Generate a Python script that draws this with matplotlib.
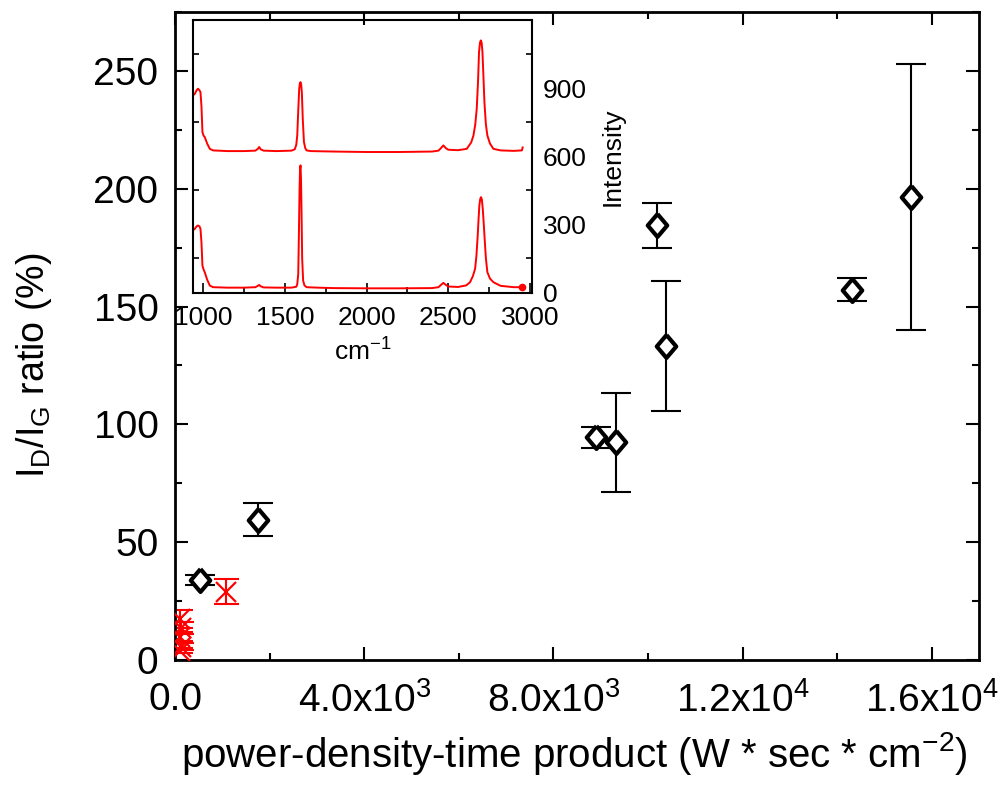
import matplotlib
matplotlib.use('Agg')
import matplotlib.pyplot as plt
from matplotlib.ticker import MultipleLocator, FixedLocator, FixedFormatter

plt.rcParams['font.family'] = ['Liberation Sans', 'DejaVu Sans']
plt.rcParams['mathtext.fontset'] = 'custom'
plt.rcParams['mathtext.rm'] = 'Liberation Sans'
plt.rcParams['mathtext.it'] = 'Liberation Sans'
plt.rcParams['mathtext.bf'] = 'Liberation Sans'

# ---------------- data ----------------
# black series (diamonds)
pdt_black = [528, 1752, 8908, 9330, 10195, 10385, 14311, 15557]
ratio_black = [34, 59.5, 94.5, 92.3, 184.5, 133.3, 157.2, 196.4]
err_black = [2.1, 7, 4.5, 21, 9.5, 27.7, 4.7, 56.5]

# red series (crosses)
pdt_red = [1070, 105, 120, 95, 130, 110]
ratio_red = [29, 17.4, 13.5, 9.9, 5.7, 4]
err_red = [5.4, 3.9, 2.5, 2, 1.5, 1]

x_tick_vals = [0, 4000, 8000, 12000, 16000]
x_tick_labels = ["0.0", r"4.0x10$^{3}$", r"8.0x10$^{3}$", r"1.2x10$^{4}$", r"1.6x10$^{4}$"]

# inset Raman spectra
wn_top = [942, 949, 960, 969, 978, 984, 990, 996, 1003, 1010, 1025, 1041, 1061, 1150, 1250,
          1320, 1335, 1343, 1352, 1370, 1450, 1540, 1561, 1570, 1576, 1582, 1588, 1592, 1596,
          1600, 1604, 1610, 1617, 1625, 1633, 1660, 1800, 2000, 2200, 2400, 2440, 2455, 2470,
          2485, 2500, 2560, 2613, 2640, 2654, 2665, 2674, 2682, 2688, 2694, 2699, 2704, 2709,
          2715, 2721, 2730, 2739, 2755, 2776, 2820, 2900, 2950, 2955]
int_top = [870, 874, 890, 897, 890, 882, 820, 706, 690, 684, 655, 632, 625, 622, 622,
           624, 632, 640, 630, 624, 622, 624, 630, 650, 691, 800, 897, 920, 926,
           915, 882, 760, 662, 635, 625, 622, 620, 618, 618, 620, 624, 635, 647,
           635, 628, 626, 632, 660, 691, 740, 809, 930, 1059, 1100, 1110, 1100, 1059,
           950, 838, 740, 691, 655, 632, 625, 623, 625, 638]

wn_bot = [942, 949, 960, 969, 978, 984, 990, 996, 1003, 1010, 1025, 1041, 1061, 1150, 1250,
          1320, 1335, 1343, 1352, 1370, 1450, 1540, 1570, 1576, 1582, 1586, 1590, 1593, 1596,
          1599, 1602, 1606, 1612, 1620, 1633, 1700, 1800, 2000, 2200, 2400, 2440, 2455, 2470,
          2485, 2500, 2560, 2610, 2633, 2650, 2664, 2672, 2680, 2685, 2690, 2695, 2700, 2705,
          2711, 2717, 2723, 2730, 2739, 2755, 2776, 2820, 2900, 2952]
int_bot = [275, 279, 290, 294, 290, 279, 220, 117, 100, 88, 55, 29, 22, 20, 20,
           22, 28, 32, 26, 21, 20, 20, 24, 35, 80, 250, 450, 540, 559,
           500, 367, 150, 51, 30, 22, 20, 18, 17, 17, 18, 22, 32, 41,
           32, 25, 23, 30, 44, 70, 103, 160, 250, 320, 382, 410, 419, 410,
           367, 300, 228, 150, 88, 60, 44, 28, 22, 22]

inset_x_ticks = [1000, 1500, 2000, 2500, 3000]
inset_y_ticks = [0, 300, 600, 900]

# ---------------- figure ----------------
fig = plt.figure(figsize=(10.02, 7.87), dpi=100)
ax = fig.add_axes([0.1747, 0.1614, 0.8023, 0.8234])

diamond = [(0, 1), (0.85, 0), (0, -1), (-0.85, 0), (0, 1)]

ax.errorbar(pdt_black, ratio_black, yerr=err_black, fmt='none', ecolor='black',
            elinewidth=1.5, capsize=10.8, capthick=1.5, zorder=2)
ax.plot(pdt_black, ratio_black, linestyle='none', marker=diamond, markersize=16.5,
        markerfacecolor='white', markeredgecolor='black', markeredgewidth=3, zorder=3)

ax.errorbar(pdt_red, ratio_red, yerr=err_red, fmt='none', ecolor='red',
            elinewidth=1.5, capsize=9, capthick=1.5, zorder=2)
ax.plot(pdt_red, ratio_red, linestyle='none', marker='x', markersize=14,
        markeredgecolor='red', markeredgewidth=1.6, zorder=3)

ax.set_xlim(0, 17000)
ax.set_ylim(0, 275)

ax.xaxis.set_major_locator(FixedLocator(x_tick_vals))
ax.xaxis.set_major_formatter(FixedFormatter(x_tick_labels))
ax.xaxis.set_minor_locator(MultipleLocator(2000))
ax.yaxis.set_major_locator(MultipleLocator(50))
ax.yaxis.set_minor_locator(MultipleLocator(25))

ax.tick_params(which='both', direction='in', top=True, right=True, width=1.5)
ax.tick_params(which='major', length=9.5, labelsize=28)
ax.tick_params(which='minor', length=5)
ax.tick_params(axis='x', which='major', pad=16)
ax.tick_params(axis='y', which='major', pad=12)
for s in ax.spines.values():
    s.set_linewidth(2)

ax.set_xlabel(r"power-density-time product (W * sec * cm$^{-2}$)", fontsize=29)
ax.xaxis.set_label_coords(0.497, -0.108)
ax.set_ylabel(r"I$_{D}$/I$_{G}$ ratio (%)", fontsize=27)
ax.yaxis.set_label_coords(-0.150, 0.455)

# ---------------- inset ----------------
ins = fig.add_axes([0.1929, 0.6273, 0.3377, 0.3473])
ins.set_facecolor('none')
ins.plot(wn_top, int_top, color='red', linewidth=1.4)
ins.plot(wn_bot, int_bot, color='red', linewidth=1.4)
ins.plot([wn_bot[-1]], [int_bot[-1]], linestyle='none', marker='o', markersize=4.5,
         color='red')
ins.set_xlim(940, 3010)
ins.set_ylim(-5, 1200)

ins.xaxis.set_major_locator(FixedLocator(inset_x_ticks))
ins.xaxis.set_minor_locator(MultipleLocator(250))
ins.yaxis.set_major_locator(FixedLocator(inset_y_ticks))
ins.yaxis.set_minor_locator(MultipleLocator(150))
ins.yaxis.tick_right()
ins.yaxis.set_label_position('right')
ins.tick_params(which='both', direction='in', width=1.2, labelsize=19)
ins.tick_params(axis='x', which='major', length=7, pad=9)
ins.tick_params(axis='x', which='minor', length=4)
ins.tick_params(axis='y', which='major', length=0, pad=8)
ins.tick_params(axis='y', which='minor', length=4, left=True, right=True)
for s in ins.spines.values():
    s.set_linewidth(1.5)

ins.set_xlabel(r"cm$^{-1}$", fontsize=19, labelpad=6)
ins.set_ylabel("Intensity", fontsize=19, labelpad=10)

fig.savefig('out.png', dpi=100)
